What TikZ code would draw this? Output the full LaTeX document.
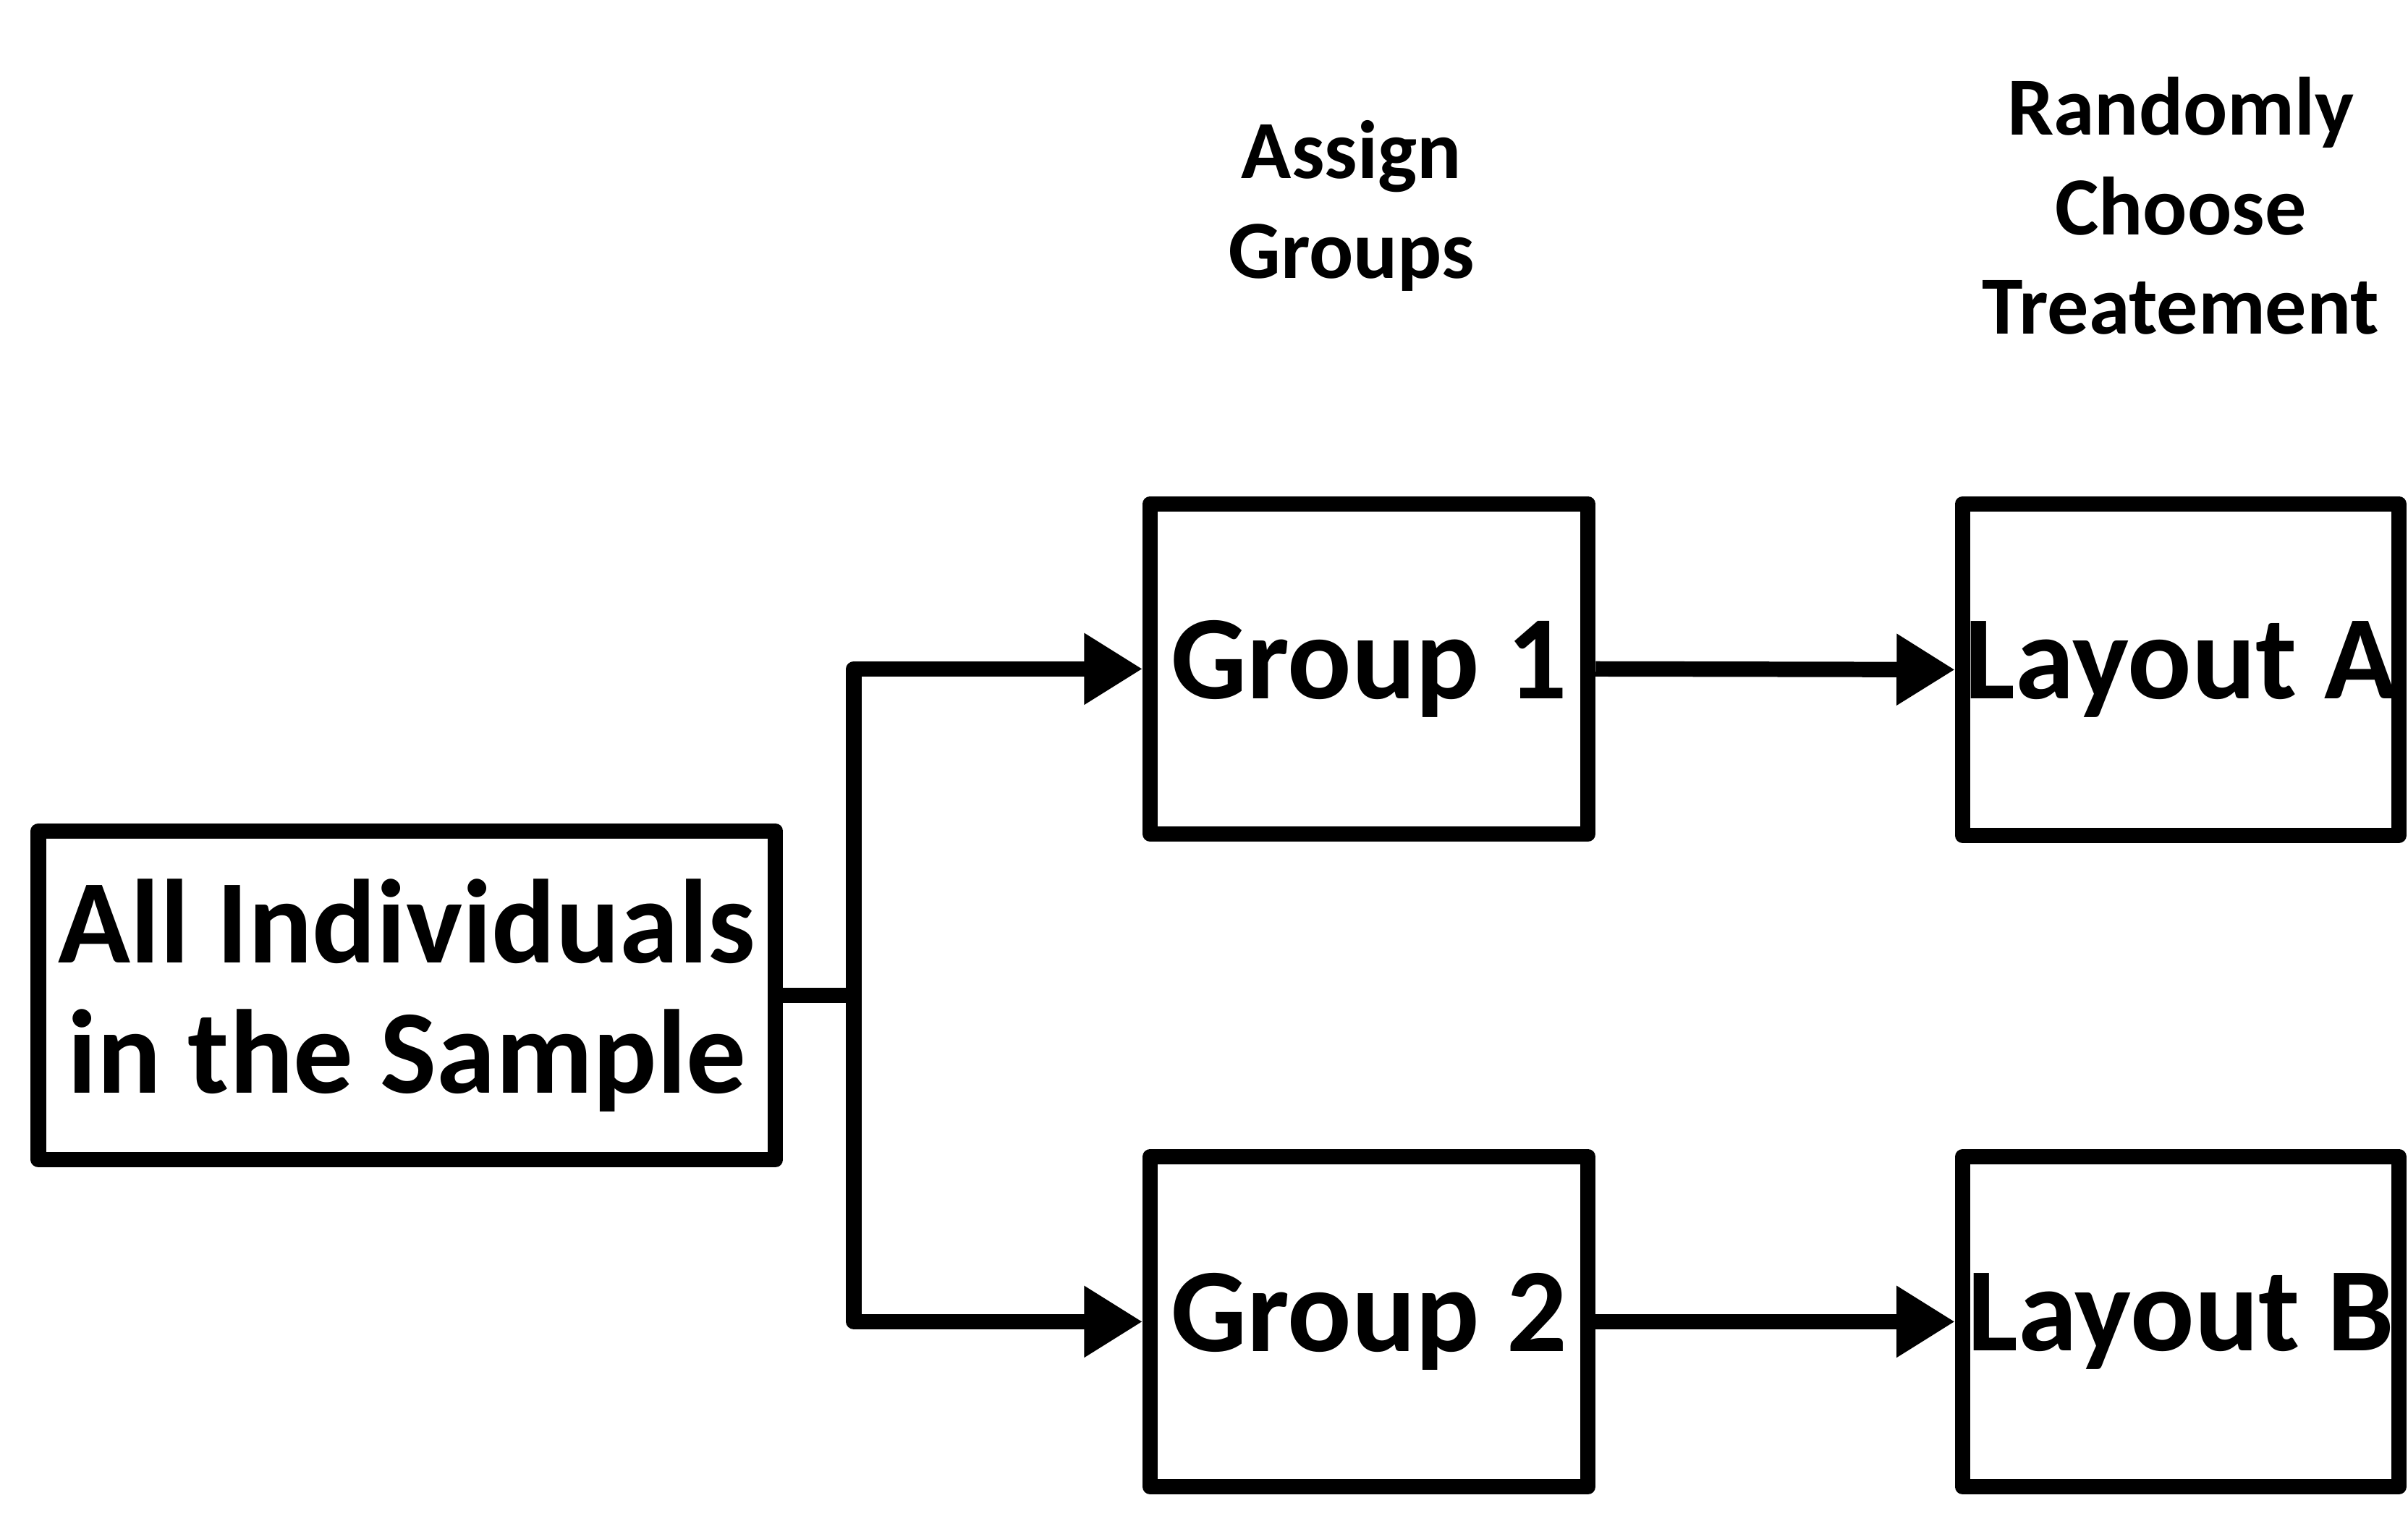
\documentclass[tikz,border=0pt]{standalone}
\usepackage{fontspec}
\setmainfont{Carlito}
\usetikzlibrary{arrows.meta}
\begin{document}
\begin{tikzpicture}[x=0.5bp,y=-0.5bp,
  box/.style={draw,line width=5bp,line join=round,inner sep=0pt,align=center,font=\fontsize{39}{42.5}\selectfont\bfseries},
  lbl/.style={align=center,font=\fontsize{27}{32.5}\selectfont\bfseries},
  conn/.style={line width=5bp,line join=round},
  arr/.style={conn,-{Triangle[length=19bp,width=22bp]}}]
\useasboundingbox (0,0) rectangle (1568,992);
\node[box,minimum width=240bp,minimum height=107bp] (all) at (265,648) {All Individuals\\in the Sample};
\node[box,minimum width=142.5bp,minimum height=107.5bp] (g1) at (891.5,435.5) {Group 1};
\node[box,minimum width=142.5bp,minimum height=107.5bp] (g2) at (891.5,860.5) {Group 2};
\node[box,minimum width=142bp,minimum height=108bp] (la) at (1420,436) {Layout A};
\node[box,minimum width=142bp,minimum height=107.5bp] (lb) at (1420,860.5) {Layout B};
\node[lbl] (t1) at (880,134) {Assign\\Groups};
\node[lbl] (t2) at (1420,134) {Randomly\\Choose\\Treatement};
\coordinate (j) at (556,648);
\draw[conn] (all.east) -- (j);
\draw[arr] (j) |- (g1.west);
\draw[arr] (j) |- (g2.west);
\draw[arr] (g1.east) -- (la.west);
\draw[arr] (g2.east) -- (lb.west);
\end{tikzpicture}
\end{document}
